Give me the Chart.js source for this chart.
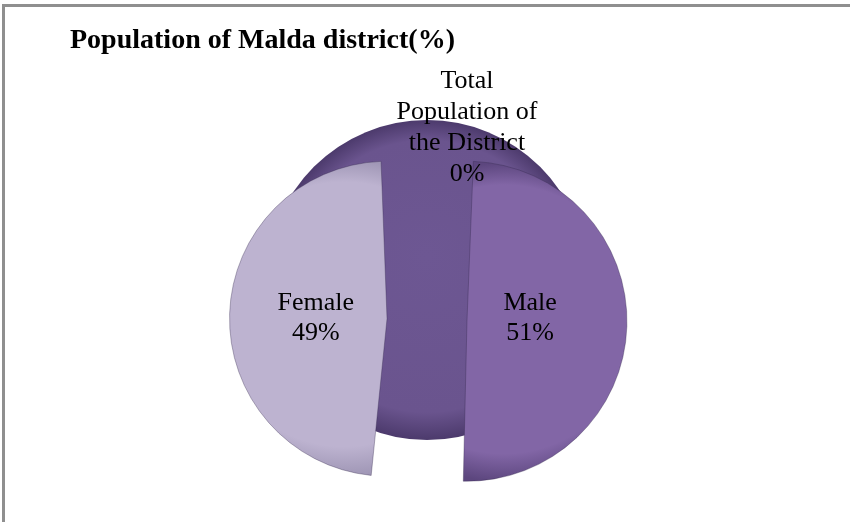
<!DOCTYPE html>
<html lang="en">
<head>
  <meta charset="UTF-8">
  <title>Population of Malda district(%)</title>
  <script src="https://cdn.jsdelivr.net/npm/chart.js"></script>
  <style>
    html, body { margin: 0; padding: 0; background: #fff; }
    #wrap { width: 850px; height: 522px; }
  </style>
</head>
<body>
  <div id="wrap"><canvas id="chart" width="850" height="522"></canvas></div>
  <script>
    // slices in drawing order, starting at 12 o'clock and going clockwise
    const categories = ['Total Population of the District', 'Male', 'Female'];
    const labelLines = [['Total', 'Population of', 'the District'], ['Male'], ['Female']];
    const shares = [0, 51, 49];
    const sliceColors = ['#6a548e', '#8266a6', '#bdb3d0'];
    const rimColors = ['#4c3a6c', '#5c467e', '#a097b6'];

    const SHIFT = 40;              // px each slice is pulled out from the centre
    const OFFSET = SHIFT * 4;      // Chart.js translates an arc by offset / 4
    const BASE_RADIUS = 120;       // arcs grow by about offset / 4 when drawn, giving ~160px
    const DEPTH = 40;              // how far the back face sits above the pie
    const serif = '"Liberation Serif", "Times New Roman", serif';

    // where a slice's middle points to and the radius it ends up drawn with
    function sliceGeometry(i) {
      const total = shares.reduce((a, b) => a + b, 0);
      let start = -Math.PI / 2;
      for (let k = 0; k < i; k++) start += shares[k] / total * 2 * Math.PI;
      const circ = shares[i] / total * 2 * Math.PI;
      const mid = start + circ / 2;
      const fix = 1 - Math.sin(Math.min(Math.PI, circ));
      return { mid, radius: BASE_RADIUS + SHIFT * fix };
    }

    function sliceFill(ctx) {
      const chart = ctx.chart;
      const area = chart.chartArea;
      const i = ctx.dataIndex;
      if (!area || i === undefined) return sliceColors[i || 0];
      const { mid, radius } = sliceGeometry(i);
      const cx = (area.left + area.right) / 2 + Math.cos(mid) * SHIFT;
      const cy = (area.top + area.bottom) / 2 + Math.sin(mid) * SHIFT;
      const g = chart.ctx.createRadialGradient(cx - 20, cy - 20, 0, cx, cy, radius);
      g.addColorStop(0, sliceColors[i]);
      g.addColorStop(0.84, sliceColors[i]);
      g.addColorStop(1, rimColors[i]);
      return g;
    }

    // white page, grey frame on top/left, title and the back face of the pie
    const backdrop = {
      id: 'backdrop',
      beforeDraw(chart) {
        const c = chart.ctx;
        c.save();
        c.fillStyle = '#fff';
        c.fillRect(0, 0, chart.width, chart.height);
        c.fillStyle = '#8f8f8f';
        c.fillRect(2, 4, chart.width - 2, 3);
        c.fillRect(2, 4, 3, chart.height - 4);
        c.fillStyle = '#000';
        c.font = 'bold 28px ' + serif;
        c.textBaseline = 'alphabetic';
        c.fillText('Population of Malda district(%)', 70, 48);
        c.restore();
      },
      beforeDatasetsDraw(chart) {
        const arc = chart.getDatasetMeta(0).data[0];
        const c = chart.ctx;
        const x = arc.x, y = arc.y - DEPTH, r = arc.outerRadius + SHIFT;
        const g = c.createRadialGradient(x, y - 25, 0, x, y, r);
        g.addColorStop(0, '#6d5793');
        g.addColorStop(0.85, '#6a548e');
        g.addColorStop(1, rimColors[0]);
        c.save();
        c.beginPath();
        c.arc(x, y, r, 0, Math.PI * 2);
        c.fillStyle = g;
        c.fill();
        c.restore();
      }
    };

    const sliceLabels = {
      id: 'sliceLabels',
      afterDatasetsDraw(chart) {
        const meta = chart.getDatasetMeta(0);
        const total = shares.reduce((a, b) => a + b, 0);
        const c = chart.ctx;
        c.save();
        c.fillStyle = '#000';
        c.font = '26px ' + serif;
        c.textAlign = 'center';
        c.textBaseline = 'middle';
        meta.data.forEach((arc, i) => {
          const lines = labelLines[i].concat(Math.round(shares[i] / total * 100) + '%');
          const r = arc.outerRadius + SHIFT;
          let lx, ly, lh;
          if (shares[i] === 0) {
            // empty slice: label sits on the rim of the back face
            lx = arc.x + DEPTH;
            ly = arc.y - DEPTH - r * 0.95;
            lh = 31;
          } else {
            const { mid } = sliceGeometry(i);
            lx = arc.x + Math.cos(mid) * (SHIFT + r * 0.42) - 4;
            ly = arc.y - 2;
            lh = 30;
          }
          const top = ly - (lines.length - 1) * lh / 2;
          lines.forEach((t, k) => c.fillText(t, lx, top + k * lh));
        });
        c.restore();
      }
    };

    new Chart(document.getElementById('chart'), {
      type: 'pie',
      data: {
        labels: categories,
        datasets: [{
          data: shares,
          backgroundColor: sliceFill,
          borderColor: 'rgba(50, 38, 75, 0.35)',
          borderWidth: 1,
          offset: OFFSET
        }]
      },
      options: {
        responsive: false,
        animation: false,
        radius: BASE_RADIUS,
        layout: { padding: { left: 70, right: 66, top: 140, bottom: 22 } },
        plugins: {
          legend: { display: false },
          tooltip: { enabled: false }
        }
      },
      plugins: [backdrop, sliceLabels]
    });
  </script>
</body>
</html>
